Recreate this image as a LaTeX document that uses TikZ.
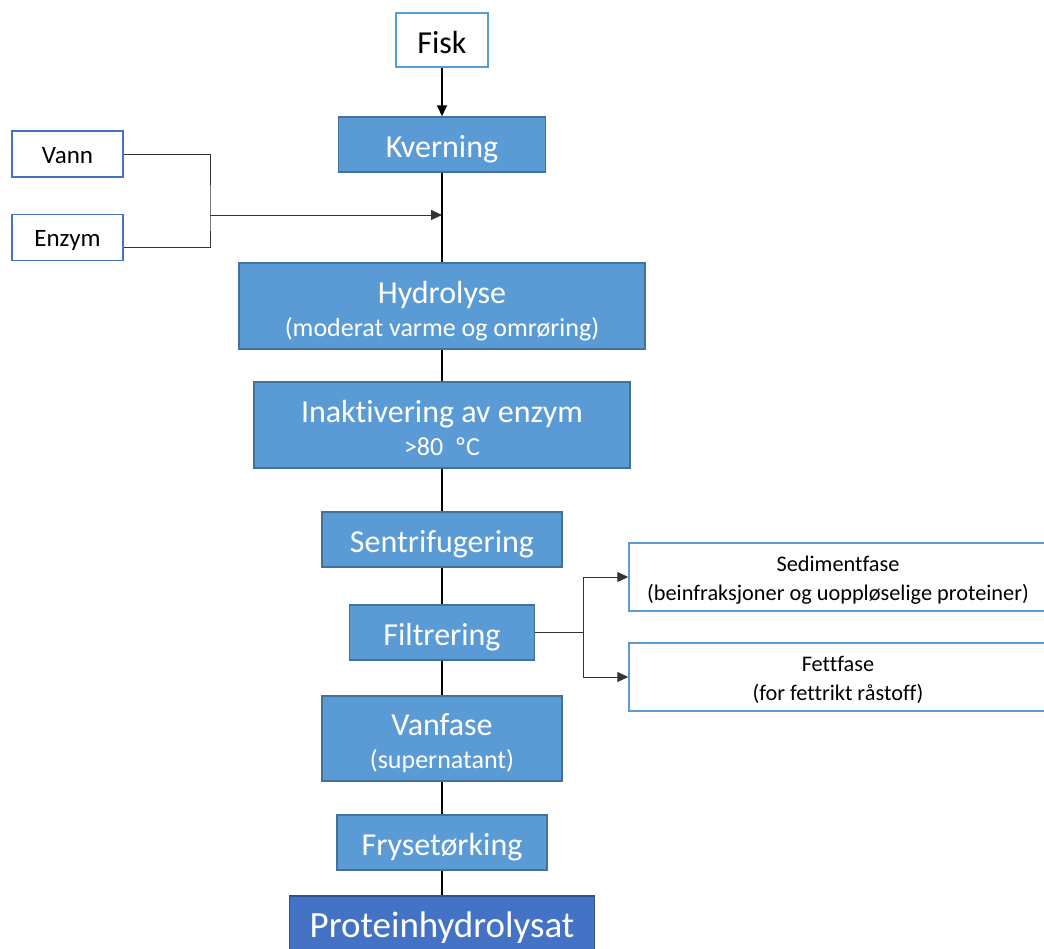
\documentclass[tikz,border=0pt]{standalone}
\usepackage{fontspec}
\setmainfont{Carlito}[Ligatures=NoCommon]
\usetikzlibrary{arrows.meta}
\definecolor{procfill}{HTML}{5B9BD5}
\definecolor{procline}{HTML}{41719C}
\definecolor{endfill}{HTML}{4472C4}
\definecolor{endline}{HTML}{2F528F}
\definecolor{inline}{HTML}{4472C4}
\definecolor{outline}{HTML}{5B9BD5}
\newcommand{\ttl}{\fontsize{32}{33}\selectfont}
\newcommand{\sub}{\fontsize{26}{33}\selectfont}

\tikzset{
  proc/.style={draw=procline, fill=procfill, text=white, line width=1.5pt, inner sep=0pt, align=center, font=\ttl},
  oneline/.style={text height=33pt, text depth=7pt},
  twoline/.style={text height=64pt, text depth=4pt},
  inbox/.style={draw=inline, fill=white, line width=1.5pt, inner sep=0pt, minimum width=111, minimum height=46,
    text height=24pt, text depth=6pt, font=\fontsize{25}{30}\selectfont},
  outbox/.style={draw=outline, fill=white, line width=1.5pt, inner sep=0pt, align=center, font=\fontsize{22.3}{29}\selectfont},
  flow/.style={line width=2pt},
  side/.style={line width=1pt, black!80},
  tip/.style={-{Triangle[length=11pt,width=10pt]}}
}

\begin{document}
\begin{tikzpicture}[x=1pt,y=-1pt]
  \useasboundingbox (0,0) rectangle (1044,948);

  \node[outbox, minimum width=92, minimum height=54, text height=33pt, text depth=7pt,
        font=\fontsize{32}{38}\selectfont] (fisk) at (442,40) {Fisk};
  \node[inbox] (vann) at (67.5,154) {Vann};
  \node[inbox] (enzym) at (67.5,237.5) {Enzym};

  % prosesstrinn
  \foreach \nm/\y/\w/\h/\lines/\txt in {kvern/144.5/207/55/oneline/{Kverning},
      hydro/306/406/86/twoline/{Hydrolyse\\{\sub (moderat varme og omrøring)}},
      inakt/425/376/86/twoline/{Inaktivering av enzym\\{\sub >80\ \ ºC}},
      sentr/539.5/240/55/oneline/{Sentrifugering},
      filtr/632.5/185/55/oneline/{Filtrering},
      vanf/738.5/240/85/twoline/{Vanfase\\{\sub (supernatant)}},
      fryse/842.5/210/55/oneline/{Frysetørking}}
    \node[proc, \lines, minimum width=\w, minimum height=\h] (\nm) at (442,\y) {\txt};
  \node[proc, fill=endfill, draw=endline, minimum width=305, minimum height=58,
        text height=36pt, text depth=12pt, font=\fontsize{37}{40}\selectfont] (prot) at (442,925) {Proteinhydrolysat};

  \node[outbox, minimum width=418, minimum height=68, text height=49pt, text depth=3pt] (sed) at (838,577)
       {Sedimentfase\\(beinfraksjoner og uoppløselige proteiner)};
  \node[outbox, minimum width=418, minimum height=68, text height=49pt, text depth=3pt] (fett) at (838,677)
       {Fettfase\\(for fettrikt råstoff)};

  \coordinate (merge) at (210,215);
  \coordinate (hit) at (442,215);
  \coordinate (fork) at (583,632.5);

  \draw[flow, tip] (fisk) -- (kvern);
  \foreach \a/\b in {kvern/hydro, hydro/inakt, inakt/sentr, sentr/filtr, filtr/vanf, vanf/fryse, fryse/prot}
    \draw[flow] (\a.south) -- (\b.north);

  \draw[side] (vann.east) -| (merge) |- ([yshift=-10pt]enzym.east);
  \draw[side, tip] (merge) -- (hit);

  \draw[side] (filtr.east) -- (fork);
  \draw[side, tip] (fork) |- (sed.west);
  \draw[side, tip] (fork) |- (fett.west);
\end{tikzpicture}
\end{document}
